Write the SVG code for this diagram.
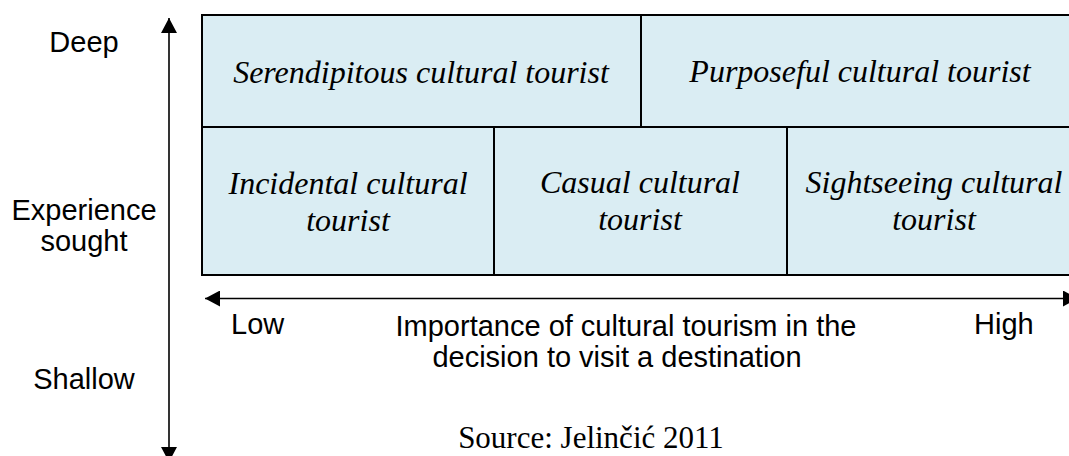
<svg xmlns="http://www.w3.org/2000/svg" width="1069" height="456" viewBox="0 0 1069 456">
<style>
.cell{fill:#daedf3;stroke:#000;stroke-width:2}
.it{font-family:"Liberation Serif","Times New Roman",serif;font-style:italic;font-size:32px;fill:#000;text-anchor:middle}
.sans{font-family:"Liberation Sans",Arial,sans-serif;font-size:29px;fill:#000}
.mid{text-anchor:middle}
.src{font-family:"Liberation Serif","Times New Roman",serif;font-size:31px;fill:#000;text-anchor:middle}
.ax{stroke:#000;stroke-width:1.6;fill:none}
</style>
<defs>
<marker id="ah" viewBox="0 0 15 16" refX="15" refY="8" markerWidth="15" markerHeight="16" markerUnits="userSpaceOnUse" orient="auto-start-reverse">
<path d="M0,0 L15,8 L0,16 Z" fill="#000"/>
</marker>
</defs>
<g id="connectors">
<line class="ax" x1="169" y1="18" x2="169" y2="462" marker-start="url(#ah)" marker-end="url(#ah)"/>
<line class="ax" x1="205" y1="298.5" x2="1078" y2="298.5" marker-start="url(#ah)" marker-end="url(#ah)"/>
</g>
<g id="serendipitous">
<rect class="cell" x="202" y="15" width="439" height="112"/>
<text class="it" x="421" y="83">Serendipitous cultural tourist</text>
</g>
<g id="purposeful">
<rect class="cell" x="641" y="15" width="440" height="112"/>
<text class="it" x="860" y="82">Purposeful cultural tourist</text>
</g>
<g id="incidental">
<rect class="cell" x="202" y="127" width="292" height="148"/>
<text class="it" x="348" y="194">Incidental cultural</text>
<text class="it" x="348" y="231">tourist</text>
</g>
<g id="casual">
<rect class="cell" x="494" y="127" width="293" height="148"/>
<text class="it" x="640" y="193">Casual cultural</text>
<text class="it" x="640" y="230">tourist</text>
</g>
<g id="sightseeing">
<rect class="cell" x="787" y="127" width="294" height="148"/>
<text class="it" x="934" y="193">Sightseeing cultural</text>
<text class="it" x="934" y="230">tourist</text>
</g>
<g id="labels">
<text class="sans mid" x="84" y="52">Deep</text>
<text class="sans mid" x="84" y="220">Experience</text>
<text class="sans mid" x="84" y="251">sought</text>
<text class="sans mid" x="84" y="389">Shallow</text>
<text class="sans" x="231" y="334">Low</text>
<text class="sans" x="974" y="334">High</text>
<text class="sans mid" x="626" y="336">Importance of cultural tourism in the</text>
<text class="sans mid" x="617" y="367">decision to visit a destination</text>
<text class="src" x="591" y="448">Source: Jelinčić 2011</text>
</g>
</svg>
